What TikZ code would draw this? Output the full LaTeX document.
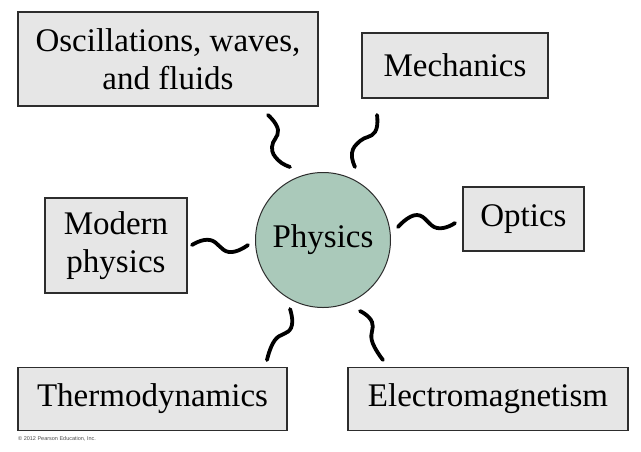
\documentclass[tikz,border=0pt]{standalone}
\usepackage{fontspec}
\setmainfont{Liberation Serif}
\newfontfamily\smallsans{Liberation Sans}
\definecolor{boxfill}{RGB}{230,230,230}
\definecolor{boxline}{RGB}{45,45,45}
\definecolor{physfill}{RGB}{170,201,186}
\begin{document}
\begin{tikzpicture}[x=1pt,y=-1pt,
  topic/.style={draw=boxline,line width=1.4pt,fill=boxfill,inner sep=0pt,align=center,
     font=\fontsize{33}{38}\selectfont},
  squig/.style={line width=3.8pt,line cap=round,black}]
\useasboundingbox (0,0) rectangle (641,451);
\node[topic,minimum width=300,minimum height=94] (osc) at (168,59) {Oscillations, waves,\\and fluids};
\node[topic,minimum width=186,minimum height=65] (mech) at (455,65.5) {Mechanics};
\node[topic,minimum width=121,minimum height=64] (opt) at (523.5,219) {Optics};
\node[topic,minimum width=142,minimum height=95] (mod) at (116,245.5) {Modern\\physics};
\node[topic,minimum width=269,minimum height=63] (thermo) at (152.5,399) {Thermodynamics};
\node[topic,minimum width=280,minimum height=63] (em) at (488,399) {Electromagnetism};
\node[circle,draw=boxline,line width=1pt,fill=physfill,minimum size=135,inner sep=0pt,
  font=\fontsize{33}{38}\selectfont] (phys) at (323,240) {Physics};
\node[anchor=west,inner sep=0pt,font=\smallsans\fontsize{5.5}{6}\selectfont,text=black!70] (copy) at (18,439) {© 2012 Pearson Education, Inc.};
% squiggles
\draw[squig] plot[smooth,tension=0.8] coordinates {(268,115) (278,130) (272,147) (278,160) (290,167)};
\draw[squig] plot[smooth,tension=0.8] coordinates {(377,115) (375,132) (360,141) (352,153) (355,167)};
\draw[squig] plot[smooth,tension=0.8] coordinates {(192,245) (210,240) (229,252) (248,245)};
\draw[squig] plot[smooth,tension=0.8] coordinates {(398,227) (417,215) (437,228) (455,223)};
\draw[squig] plot[smooth,tension=0.8] coordinates {(290,309) (291,328) (275,340) (267,360)};
\draw[squig] plot[smooth,tension=0.8] coordinates {(360,311) (372,322) (372,341) (383,360)};
\end{tikzpicture}
\end{document}
